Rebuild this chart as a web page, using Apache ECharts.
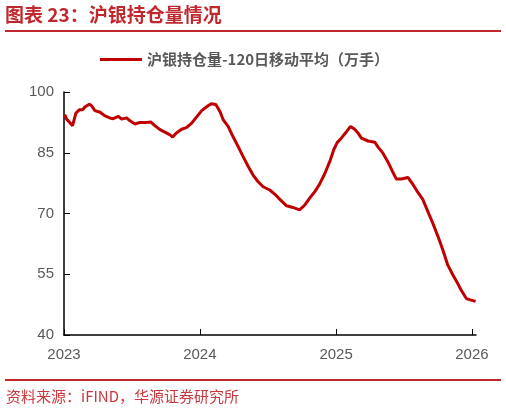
<!DOCTYPE html>
<html>
  <head>
    <meta charset="utf-8" />
    <script src="https://cdn.jsdelivr.net/npm/echarts@6.0.0/dist/echarts.min.js"></script>
    <style>
      html, body { margin: 0; padding: 0; background: #fff; }
    </style>
  </head>
  <body>
    <div id="main" style="width: 506px; height: 413px"></div>

    <script type="text/javascript">
      // 沪银持仓量-120日移动平均（万手），
      var dates = [
        "2023-01-03", "2023-01-08", "2023-01-14", "2023-01-24", "2023-02-02", "2023-02-11",
        "2023-02-20", "2023-02-26", "2023-03-10", "2023-03-16", "2023-03-25", "2023-04-08",
        "2023-04-21", "2023-05-04", "2023-05-13", "2023-05-27", "2023-06-05", "2023-06-18",
        "2023-06-27", "2023-07-11", "2023-07-24", "2023-08-11", "2023-08-22", "2023-09-02",
        "2023-09-16", "2023-09-29", "2023-10-13", "2023-10-20", "2023-10-30", "2023-11-13",
        "2023-11-26", "2023-12-10", "2023-12-23", "2024-01-06", "2024-01-23", "2024-02-01",
        "2024-02-13", "2024-02-24", "2024-03-04", "2024-03-17", "2024-03-30", "2024-04-13",
        "2024-04-26", "2024-05-10", "2024-05-23", "2024-06-05", "2024-06-19", "2024-07-07",
        "2024-07-20", "2024-08-03", "2024-08-21", "2024-09-07", "2024-09-25", "2024-10-09",
        "2024-10-22", "2024-11-05", "2024-11-18", "2024-12-01", "2024-12-15", "2024-12-26",
        "2025-01-04", "2025-01-15", "2025-01-29", "2025-02-09", "2025-02-20", "2025-03-01",
        "2025-03-10", "2025-03-28", "2025-04-15", "2025-04-24", "2025-05-07", "2025-05-20",
        "2025-06-01", "2025-06-12", "2025-06-25", "2025-07-13", "2025-07-27", "2025-08-09",
        "2025-08-22", "2025-09-05", "2025-09-18", "2025-10-02", "2025-10-15", "2025-10-28",
        "2025-11-11", "2025-11-24", "2025-12-03", "2025-12-17", "2025-12-30", "2026-01-11"
      ];
      var holding = [
        94.4, 93.3, 92.7, 91.7, 94.8, 95.6,
        95.6, 96.3, 97.0, 96.6, 95.4, 95.0,
        94.1, 93.6, 93.4, 94.0, 93.3, 93.6,
        92.9, 92.1, 92.5, 92.5, 92.6, 91.7,
        90.7, 90.1, 89.4, 88.9, 89.9, 90.8,
        91.2, 92.3, 93.8, 95.4, 96.6, 97.1,
        96.9, 95.2, 93.1, 91.5, 89.0, 86.5,
        84.1, 81.6, 79.5, 77.9, 76.6, 75.8,
        74.8, 73.5, 71.9, 71.5, 70.9, 72.1,
        73.8, 75.4, 77.3, 79.7, 82.8, 85.8,
        87.5, 88.6, 90.2, 91.5, 90.8, 89.9,
        88.6, 87.9, 87.6, 86.4, 84.9, 82.8,
        80.5, 78.5, 78.5, 78.9, 77.1, 75.2,
        73.5, 70.4, 67.6, 64.3, 61.0, 57.3,
        54.8, 52.7, 51.1, 49.0, 48.6, 48.3
      ];
      var seriesName = "沪银持仓量-120日移动平均（万手）";
      var yTicks = [40, 55, 70, 85, 100];

      var red = "#c00000";
      var titleRed = "#c0282e";
      var grey = "#595959";

      var myChart = echarts.init(document.getElementById("main"));

      let option = {
        animation: false,
        backgroundColor: "#fff",
        graphic: [
          {
            type: "text",
            left: 5,
            top: 5,
            style: {
              text: "图表 23：沪银持仓量情况",
              fill: titleRed,
              font: "bold 19px 'Noto Sans CJK SC'",
            },
          },
          {
            type: "rect",
            shape: { x: 5, y: 30, width: 496, height: 2 },
            style: { fill: titleRed },
          },
          {
            type: "rect",
            shape: { x: 5, y: 379, width: 496, height: 2 },
            style: { fill: titleRed },
          },
          {
            type: "text",
            left: 6,
            top: 389,
            style: {
              text: "资料来源：iFIND，华源证券研究所",
              fill: "#c8383c",
              font: "15px 'Noto Sans CJK SC'",
            },
          },
        ],
        legend: {
          left: 95,
          top: 47,
          icon: "rect",
          itemWidth: 42,
          itemHeight: 3,
          itemGap: 6,
          textStyle: {
            color: grey,
            fontSize: 15,
            fontWeight: "bold",
            fontFamily: "'Noto Sans CJK SC'",
          },
          data: [seriesName],
        },
        grid: {
          left: 64,
          right: 30,
          top: 92,
          bottom: 78,
          containLabel: false,
        },
        xAxis: {
          type: "time",
          min: "2023-01-01",
          max: "2026-01-12",
          minInterval: 365 * 24 * 3600 * 1000,
          splitLine: { show: false },
          axisLine: { lineStyle: { color: "#000", width: 1.5 } },
          axisTick: { show: true, inside: true, length: 6, lineStyle: { color: "#000" } },
          axisLabel: {
            formatter: "{yyyy}",
            color: grey,
            fontSize: 15,
            fontFamily: "Arial, 'Liberation Sans'",
            margin: 12,
            hideOverlap: false,
          },
        },
        yAxis: {
          type: "value",
          min: yTicks[0],
          max: yTicks[yTicks.length - 1],
          interval: 15,
          splitLine: { show: false },
          axisLine: { show: true, lineStyle: { color: "#000", width: 1.5 } },
          axisTick: { show: true, inside: true, length: 6, lineStyle: { color: "#000" } },
          axisLabel: {
            color: grey,
            fontSize: 15,
            fontFamily: "Arial, 'Liberation Sans'",
            margin: 10,
          },
        },
        series: [
          {
            name: seriesName,
            type: "line",
            symbol: "none",
            smooth: false,
            data: dates.map((d, i) => [d, holding[i]]),
            lineStyle: { color: red, width: 3 },
            itemStyle: { color: red },
          },
        ],
      };

      myChart.setOption(option);
    </script>
  </body>
</html>
